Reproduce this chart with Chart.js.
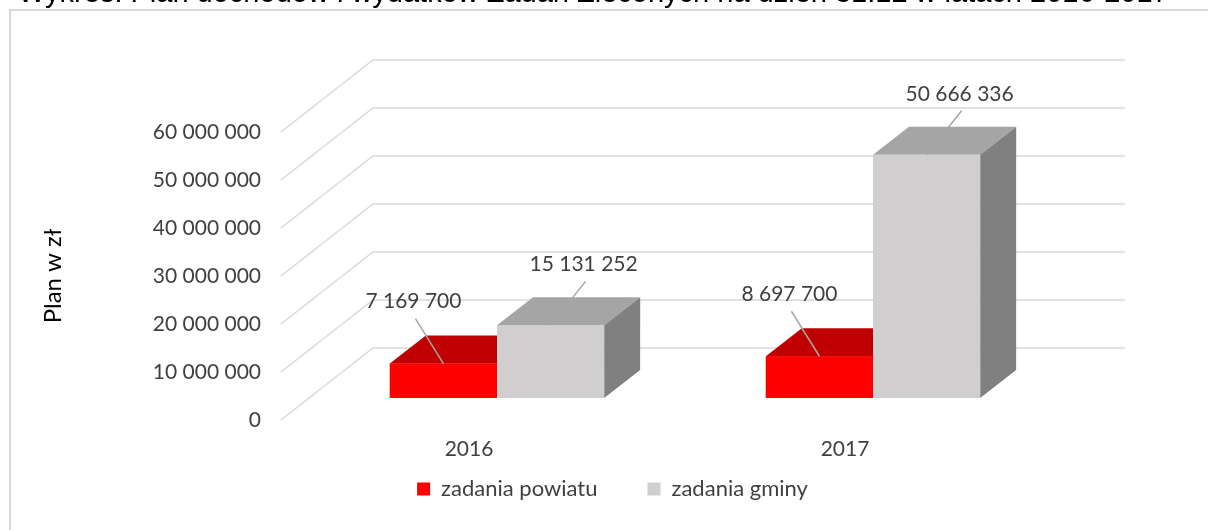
<!DOCTYPE html>
<html lang="pl">
<head>
<meta charset="utf-8">
<title>Plan w zł</title>
<script src="https://cdn.jsdelivr.net/npm/chart.js@4.4.1/dist/chart.umd.min.js"></script>
<style>
  html, body { margin: 0; padding: 0; background: #fff; }
  body { width: 1208px; height: 530px; position: relative; overflow: hidden; }
  #frame { position: absolute; left: 9px; top: 9px; width: 1300px; height: 600px; border: 2px solid #d9d9d9; box-sizing: border-box; }
  #wrap { position: absolute; left: 0; top: 0; width: 1208px; height: 530px; }
  #title { position: absolute; left: 18px; top: -22px; font: 29px "Liberation Sans", Arial, sans-serif; line-height: 29px; white-space: nowrap; color: #000; }
</style>
</head>
<body>
<div id="frame"></div>
<div id="wrap"><canvas id="chart" width="1208" height="530"></canvas></div>
<div id="title">Wykres. Plan dochodów i wydatków Zadań Zleconych na dzień 31.12 w latach 2016-2017</div>
<script>
// data
const years = ['2016', '2017'];
const zadaniaPowiatu = [7169700, 8697700];
const zadaniaGminy = [15131252, 50666336];
const seriesNames = ['zadania powiatu', 'zadania gminy'];
const yMax = 60000000;
const yStep = 10000000;
const yTitle = 'Plan w zł';

// 3D look: offsets in px
const FRONT = { dx: -28, dy: 22 };   // front edge of floor / side wall
const DEPTH = { dx: 36, dy: -28 };   // depth of a bar
const BACK = { dx: 64, dy: -50 };    // back wall

const fmt = v => String(v).replace(/\B(?=(\d{3})+(?!\d))/g, ' ');
const font = { family: 'Lato', size: 21 };
const textColor = '#404040';

function poly(ctx, pts, color) {
  ctx.beginPath();
  ctx.moveTo(pts[0][0], pts[0][1]);
  for (let k = 1; k < pts.length; k++) ctx.lineTo(pts[k][0], pts[k][1]);
  ctx.closePath();
  ctx.fillStyle = color;
  ctx.fill();
}

const box3d = {
  id: 'box3d',
  afterLayout(chart) {
    // legend in the reference sits a bit right of the plot centre
    chart.legend.left += 63;
    chart.legend.right += 63;
    // let the category labels hang below the (thin) x axis box without being clipped
    chart.scales.x.bottom = chart.legend.bottom;
  },
  beforeDatasetsDraw(chart) {
    const { ctx, chartArea: a, scales: { y } } = chart;
    ctx.save();
    ctx.strokeStyle = '#d9d9d9';
    ctx.lineWidth = 1.5;
    y.ticks.forEach(t => {
      const py = y.getPixelForValue(t.value);
      ctx.beginPath();
      ctx.moveTo(a.left + FRONT.dx, py + FRONT.dy);
      ctx.lineTo(a.left + BACK.dx, py + BACK.dy);
      ctx.lineTo(a.right + BACK.dx, py + BACK.dy);
      ctx.stroke();
    });
    ctx.restore();
  },
  afterDatasetsDraw(chart) {
    const { ctx, chartArea: a } = chart;
    const sets = chart.data.datasets;
    ctx.save();
    // boxes, drawn left to right so later fronts hide earlier sides
    years.forEach((yr, j) => {
      sets.forEach((ds, i) => {
        const bar = chart.getDatasetMeta(i).data[j];
        const l = bar.x - bar.width / 2, r = bar.x + bar.width / 2;
        const t = bar.y, b = bar.base;
        poly(ctx, [[l, t], [r, t], [r + DEPTH.dx, t + DEPTH.dy], [l + DEPTH.dx, t + DEPTH.dy]], ds.topColor);
        poly(ctx, [[r, t], [r + DEPTH.dx, t + DEPTH.dy], [r + DEPTH.dx, b + DEPTH.dy], [r, b]], ds.sideColor);
        poly(ctx, [[l, t], [r, t], [r, b], [l, b]], ds.backgroundColor);
      });
    });
    // value labels with leader lines
    ctx.font = font.size + 'px ' + font.family;
    ctx.textAlign = 'center';
    ctx.textBaseline = 'middle';
    sets.forEach((ds, i) => {
      chart.getDatasetMeta(i).data.forEach((bar, j) => {
        const lx = bar.x + ds.labelDx, ly = bar.y + ds.labelDy;
        ctx.strokeStyle = '#a6a6a6';
        ctx.lineWidth = 1.5;
        ctx.beginPath();
        ctx.moveTo(bar.x, bar.y);
        ctx.lineTo(lx + 2, ly + 17);
        ctx.stroke();
        ctx.fillStyle = textColor;
        ctx.fillText(fmt(ds.data[j]), lx, ly);
      });
    });
    // axis title, centred on the side wall
    ctx.save();
    ctx.translate(53, (a.top + a.bottom) / 2 + FRONT.dy);
    ctx.rotate(-Math.PI / 2);
    ctx.font = '24px Lato';
    ctx.fillStyle = '#000';
    ctx.fillText(yTitle, 0, 0);
    ctx.restore();
    ctx.restore();
  }
};

Chart.defaults.font.family = 'Lato';

new Chart(document.getElementById('chart'), {
  type: 'bar',
  data: {
    labels: years,
    datasets: [
      { label: seriesNames[0], data: zadaniaPowiatu, backgroundColor: '#ff0000', topColor: '#c00000', sideColor: '#a00000', labelDx: -30, labelDy: -62 },
      { label: seriesNames[1], data: zadaniaGminy, backgroundColor: '#d0cece', topColor: '#a5a5a5', sideColor: '#808080', labelDx: 33, labelDy: -61 }
    ]
  },
  options: {
    responsive: false,
    animation: false,
    devicePixelRatio: 1,
    datasets: { bar: { categoryPercentage: 0.57, barPercentage: 1 } },
    layout: { padding: { left: 38, right: 147, top: 110, bottom: 20 } },
    scales: {
      x: {
        grid: { display: false, drawTicks: false },
        border: { display: false },
        ticks: { padding: 39, labelOffset: -28, color: textColor, font: font },
        afterFit: s => { s.height = 30; }
      },
      y: {
        min: 0,
        max: yMax,
        grid: { display: false, drawTicks: false },
        border: { display: false },
        ticks: { stepSize: yStep, padding: 48, labelOffset: 22, color: textColor, font: font, callback: v => fmt(v) },
        afterFit: s => { s.width = 271; }
      }
    },
    plugins: {
      legend: {
        position: 'bottom',
        labels: { boxWidth: 13, boxHeight: 13, padding: 50, color: textColor, font: { family: 'Lato', size: 22 } }
      },
      tooltip: { enabled: false }
    }
  },
  plugins: [box3d]
});
</script>
</body>
</html>
